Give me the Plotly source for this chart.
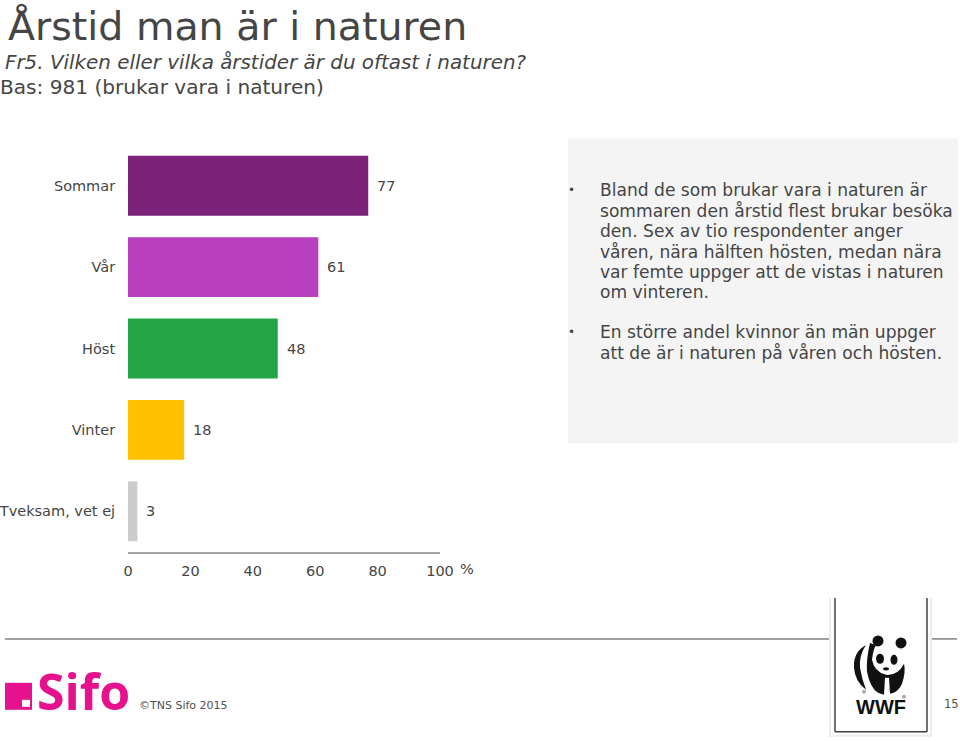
import plotly.graph_objects as go

categories = ["Sommar", "Vår", "Höst", "Vinter", "Tveksam, vet ej"]
values = [77, 61, 48, 18, 3]
colors = ["#7B237B", "#B83FBE", "#23A445", "#FFC000", "#CCCCCC"]
tick_values = [0, 20, 40, 60, 80, 100]
title = "Årstid man är i naturen"
question = "Fr5. Vilken eller vilka årstider är du oftast i naturen?"
base = "Bas: 981 (brukar vara i naturen)"
bullet_1 = ["Bland de som brukar vara i naturen är", "sommaren den årstid flest brukar besöka", "den. Sex av tio respondenter anger",
            "våren, nära hälften hösten, medan nära", "var femte uppger att de vistas i naturen", "om vinteren."]
bullet_2 = ["En större andel kvinnor än män uppger", "att de är i naturen på våren och hösten."]

FONT = "DejaVu Sans"
L, R, T, B = 128, 440, 144.5, 552
X = lambda p: (p - L) / (R - L)
Y = lambda p: (B - p) / (B - T)

fig = go.Figure(go.Bar(
    x=values, y=categories, orientation="h", marker=dict(color=colors, line_width=0),
    width=0.736, hoverinfo="skip"))

shapes = []
def rect(x0, y0, x1, y1, fill, layer="above"):
    shapes.append(dict(type="rect", xref="paper", yref="paper", x0=X(x0), x1=X(x1), y0=Y(y0), y1=Y(y1),
                       fillcolor=fill, line=dict(width=0), layer=layer))
def seg(x0, y0, x1, y1, color, w):
    shapes.append(dict(type="line", xref="paper", yref="paper", x0=X(x0), x1=X(x1), y0=Y(y0), y1=Y(y1),
                       line=dict(color=color, width=w), layer="above"))
def ell(cx, cy, rx, ry, fill):
    shapes.append(dict(type="circle", xref="paper", yref="paper", x0=X(cx-rx), x1=X(cx+rx), y0=Y(cy+ry), y1=Y(cy-ry),
                       fillcolor=fill, line=dict(width=0), layer="above"))
def blob(cmds, fill="#111111"):
    parts = []
    for c in cmds:
        parts.append(c[0] + " " + " ".join(
            f"{X(c[i]):.5f} {Y(c[i+1]):.5f}" for i in range(1, len(c), 2)))
    shapes.append(dict(type="path", xref="paper", yref="paper", layer="above", fillcolor=fill,
                       line=dict(width=0), path=" ".join(parts) + " Z"))

annotations = []
def text(x, y, s, size, color="#454545", anchor="left", family=FONT):
    annotations.append(dict(xref="paper", yref="paper", x=X(x), y=Y(y), text=s, showarrow=False, xanchor=anchor,
                            yanchor="middle", align=anchor, font=dict(family=family, size=size, color=color),
                            borderpad=0, borderwidth=0))

for cat, v in zip(categories, values):
    annotations.append(dict(xref="x", yref="y", x=v, y=cat, text=str(v), showarrow=False, xanchor="left",
                            yanchor="middle", xshift=8, borderpad=0,
                            font=dict(family=FONT, size=14.5, color="#454545")))

rect(568, 138, 958, 443, "#F4F4F4", layer="below")
text(8, 25, title, 39.5)
text(5, 62, "<i>" + question + "</i>", 19.9)
text(0, 86, base, 20.1)

for i, line in enumerate(bullet_1):
    text(600, 190 + i * 20.4, line, 17.1)
for i, line in enumerate(bullet_2):
    text(600, 332 + i * 20.4, line, 17.1)
for py in (190, 332):
    text(568, py, "•", 12)

text(460, 569, "%", 14.5)
text(139, 706, "©TNS Sifo 2015", 11, "#505050")
text(951, 704, "15", 11.5, "#505050", anchor="center")

# footer rule and frame
seg(5, 639, 830, 639, "#808080", 1.5)
seg(932, 639, 957, 639, "#808080", 1.5)
rect(829, 598, 932, 737, "#ECECEC")
rect(831, 598, 930, 735, "#FFFFFF")
seg(835, 598, 835, 732, "#404040", 1.5)
seg(927, 598, 927, 732, "#404040", 1.5)
seg(835, 732, 927, 732, "#404040", 1.5)

# Sifo logo
rect(5, 683, 32, 710, "#E6118C")
rect(22, 700, 30, 707, "#FFFFFF")
text(37, 691, "<b>Sifo</b>", 50, "#E6118C", family="Open Sans")

# WWF panda
ell(878, 641, 5.5, 5.5, "#111111")
ell(901, 643, 5.5, 5.5, "#111111")
blob([("M", 866, 645), ("Q", 853, 652, 854, 668), ("Q", 855, 682, 866, 690),
      ("Q", 862, 680, 860, 668), ("Q", 859, 655, 866, 645)])
blob([("M", 870, 643), ("Q", 866, 660, 867, 672), ("Q", 870, 688, 878, 693), ("L", 884, 695),
      ("L", 885, 678), ("L", 889, 678), ("L", 890, 694), ("Q", 898, 693, 902, 684),
      ("Q", 906, 672, 904, 664), ("Q", 898, 676, 886, 675), ("Q", 874, 672, 872, 660),
      ("Q", 873, 650, 876, 645)])
ell(880, 659, 4, 5, "#111111")
ell(894, 660, 3.5, 5, "#111111")
ell(886, 669, 3, 1.6, "#111111")
ell(864, 692, 2, 2, "#AAAAAA")
ell(904, 697, 2, 2, "#AAAAAA")
text(881, 707, "<b>WWF</b>", 20, "#111111", anchor="center", family="Liberation Sans")

fig.update_layout(
    width=960, height=741, margin=dict(l=L, r=960 - R, t=T, b=741 - B), autosize=False,
    paper_bgcolor="#FFFFFF", plot_bgcolor="rgba(0,0,0,0)", showlegend=False,
    shapes=shapes, annotations=annotations,
    xaxis=dict(range=[0, 100], tickvals=tick_values, showgrid=False, zeroline=False, showline=True,
               automargin=False, linecolor="#A6A6A6", linewidth=1.5, ticks="outside", ticklen=5,
               tickcolor="rgba(0,0,0,0)", tickfont=dict(family=FONT, size=14.5, color="#454545")),
    yaxis=dict(categoryorder="array", categoryarray=categories[::-1], showgrid=False, zeroline=False,
               showline=False, automargin=False, ticks="outside", ticklen=9, tickcolor="rgba(0,0,0,0)",
               tickfont=dict(family=FONT, size=14.5, color="#454545")),
)
fig.write_html("out.html", config={"displayModeBar": False},
               post_script="document.body.style.margin='0';")
